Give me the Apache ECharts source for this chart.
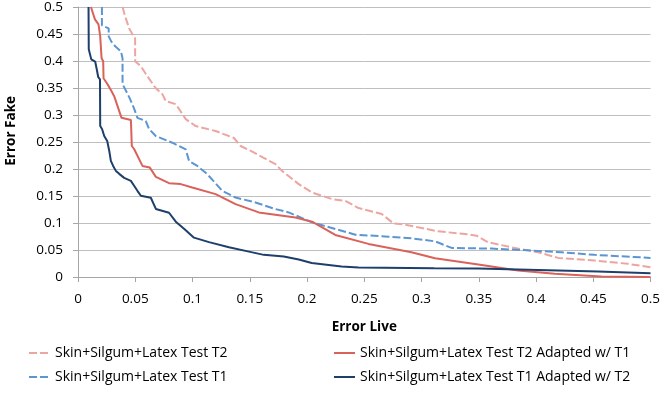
<!DOCTYPE html>
<html>
<head>
<meta charset="utf-8">
<script src="https://cdn.jsdelivr.net/npm/echarts@6/dist/echarts.min.js"></script>
<style>
html,body{margin:0;padding:0;background:#fff;}
#chart{width:663px;height:394px;}
</style>
</head>
<body>
<div id="chart"></div>
<script>
// Series names
const seriesNames = [
  'Skin+Silgum+Latex Test T2',
  'Skin+Silgum+Latex Test T2 Adapted w/ T1',
  'Skin+Silgum+Latex Test T1',
  'Skin+Silgum+Latex Test T1 Adapted w/ T2'
];

// Skin+Silgum+Latex Test T2 (pink dashed)
const t2X = [0.0389,0.0412,0.0447,0.0476,0.0499,0.0499,0.0549,0.0606,0.0679,0.0737,0.0767,0.0854,0.0941,0.1028,0.1202,0.1362,0.142,0.151,0.1725,0.1782,0.1928,0.2044,0.2218,0.2334,0.245,0.2653,0.2755,0.2857,0.3147,0.338,0.3481,0.3583,0.3786,0.4019,0.4193,0.4512,0.4802,0.5];
const t2Y = [0.5,0.4825,0.4603,0.4493,0.4419,0.3995,0.3903,0.3718,0.3496,0.3386,0.3256,0.32,0.2924,0.2795,0.2703,0.2574,0.2426,0.2334,0.2089,0.1965,0.172,0.1565,0.1443,0.1411,0.1277,0.1166,0.0993,0.0969,0.0845,0.0797,0.0766,0.0642,0.055,0.0458,0.0354,0.0304,0.0244,0.0181];

// Skin+Silgum+Latex Test T2 Adapted w/ T1 (red solid)
const t2aX = [0.0113,0.0148,0.0179,0.0194,0.0194,0.0206,0.0206,0.022,0.0223,0.0258,0.0293,0.0316,0.038,0.0462,0.047,0.049,0.0563,0.0627,0.068,0.0795,0.0897,0.0998,0.1202,0.1376,0.1579,0.1899,0.2044,0.2247,0.2537,0.2912,0.3118,0.3496,0.3844,0.4164,0.457,0.5];
const t2aY = [0.5,0.477,0.4677,0.464,0.4456,0.4419,0.405,0.3995,0.368,0.357,0.344,0.3349,0.2948,0.2906,0.2426,0.237,0.2057,0.2026,0.1854,0.1738,0.172,0.1657,0.1535,0.135,0.1196,0.1103,0.1024,0.0779,0.0613,0.0458,0.0347,0.0231,0.012,0.0059,0.001,0.0];

// Skin+Silgum+Latex Test T1 (blue dashed)
const t1X = [0.0209,0.0209,0.0268,0.0268,0.029,0.0325,0.0375,0.0389,0.0389,0.0421,0.0451,0.049,0.0519,0.0592,0.0621,0.0679,0.0824,0.0941,0.097,0.1042,0.1129,0.126,0.1376,0.155,0.1725,0.184,0.2044,0.2422,0.2712,0.2915,0.3118,0.3263,0.3611,0.3931,0.4221,0.4512,0.5];
const t1Y = [0.5,0.4659,0.4603,0.4456,0.4363,0.4271,0.4179,0.405,0.357,0.3441,0.3312,0.3118,0.2948,0.2887,0.274,0.2611,0.2487,0.2365,0.2149,0.2057,0.1904,0.1596,0.1472,0.138,0.1258,0.1196,0.1011,0.0784,0.0747,0.0716,0.066,0.0539,0.0526,0.0494,0.0458,0.041,0.0354];

// Skin+Silgum+Latex Test T1 Adapted w/ T2 (navy solid)
const t1aX = [0.0092,0.0094,0.0107,0.0116,0.015,0.0162,0.0177,0.0192,0.0194,0.021,0.0229,0.0255,0.0273,0.0287,0.0307,0.0331,0.036,0.0403,0.0462,0.049,0.0519,0.0549,0.0636,0.068,0.0795,0.0854,0.0926,0.1013,0.1144,0.1318,0.1493,0.1623,0.1797,0.1928,0.2041,0.2302,0.245,0.3112,0.35,0.3844,0.4193,0.454,0.5];
const t1aY = [0.5,0.4216,0.418,0.403,0.399,0.3865,0.37,0.366,0.2795,0.274,0.261,0.252,0.2334,0.215,0.2057,0.1965,0.191,0.1836,0.178,0.169,0.1596,0.1504,0.1467,0.126,0.119,0.1024,0.0895,0.0729,0.0646,0.055,0.047,0.041,0.0378,0.0323,0.0258,0.0194,0.0175,0.0162,0.0157,0.0138,0.012,0.0101,0.007];

const xTickLabels = ['0','0.05','0.1','0.15','0.2','0.25','0.3','0.35','0.4','0.45','0.5'];
const yTickLabels = ['0','0.05','0.1','0.15','0.2','0.25','0.3','0.35','0.4','0.45','0.5'];

const zip = (xs, ys) => xs.map((x, i) => [x, ys[i]]);
const FONT = '"Open Sans", Lato, sans-serif';

const chart = echarts.init(document.getElementById('chart'), null, {renderer: 'canvas'});

function fmt(list) {
  return function (v) {
    const i = Math.round(v / 0.05);
    return list[i] !== undefined ? list[i] : '';
  };
}

const legendCommon = {
  orient: 'vertical', padding: 0, itemGap: 10, itemWidth: 21, itemHeight: 14,
  itemStyle: {opacity: 0, borderWidth: 0},
  textStyle: {fontFamily: FONT, fontSize: 14, color: '#000'}
};

const option = {
  animation: false,
  backgroundColor: '#ffffff',
  textStyle: {fontFamily: FONT},
  grid: {left: 78, right: 10, top: 5, bottom: 117, containLabel: false},
  xAxis: {
    type: 'value', min: 0, max: 0.5, interval: 0.05,
    name: 'Error Live', nameLocation: 'middle', nameGap: 43,
    nameTextStyle: {fontFamily: FONT, fontSize: 13.5, fontWeight: 'bold', color: '#000'},
    axisLine: {show: true, lineStyle: {color: '#a6a6a6', width: 1}},
    axisTick: {show: true, inside: false, length: 5, lineStyle: {color: '#a6a6a6'}},
    axisLabel: {color: '#000', fontSize: 13.5, fontFamily: FONT, margin: 15, formatter: fmt(xTickLabels)},
    splitLine: {show: false}
  },
  yAxis: {
    type: 'value', min: 0, max: 0.5, interval: 0.05,
    axisLine: {show: true, lineStyle: {color: '#a6a6a6', width: 1}},
    axisTick: {show: true, inside: false, length: 5, lineStyle: {color: '#a6a6a6'}},
    axisLabel: {color: '#000', fontSize: 13.5, fontFamily: FONT, margin: 15, formatter: fmt(yTickLabels)},
    splitLine: {show: true, lineStyle: {color: '#bfbfbf', width: 1}}
  },
  graphic: [{
    type: 'text', left: 4, top: 96, rotation: Math.PI / 2,
    style: {text: 'Error Fake', fontFamily: FONT, fontSize: 13.5, fontWeight: 'bold', fill: '#000'}
  }],
  legend: [
    Object.assign({left: 28, top: 346, data: [seriesNames[0], seriesNames[2]]}, legendCommon),
    Object.assign({left: 333, top: 346, data: [seriesNames[1], seriesNames[3]]}, legendCommon)
  ],
  series: [
    {name: seriesNames[0], type: 'line', data: zip(t2X, t2Y), symbol: 'none', z: 2,
     lineStyle: {color: '#eda5a0', width: 2, type: [8, 3]}, itemStyle: {color: '#eda5a0'}},
    {name: seriesNames[2], type: 'line', data: zip(t1X, t1Y), symbol: 'none', z: 3,
     lineStyle: {color: '#5b96d4', width: 2, type: [8, 3]}, itemStyle: {color: '#5b96d4'}},
    {name: seriesNames[1], type: 'line', data: zip(t2aX, t2aY), symbol: 'none', z: 4,
     lineStyle: {color: '#d9625b', width: 2}, itemStyle: {color: '#d9625b'}},
    {name: seriesNames[3], type: 'line', data: zip(t1aX, t1aY), symbol: 'none', z: 5,
     lineStyle: {color: '#1d3f6b', width: 2}, itemStyle: {color: '#1d3f6b'}}
  ]
};
chart.setOption(option);
</script>
</body>
</html>
